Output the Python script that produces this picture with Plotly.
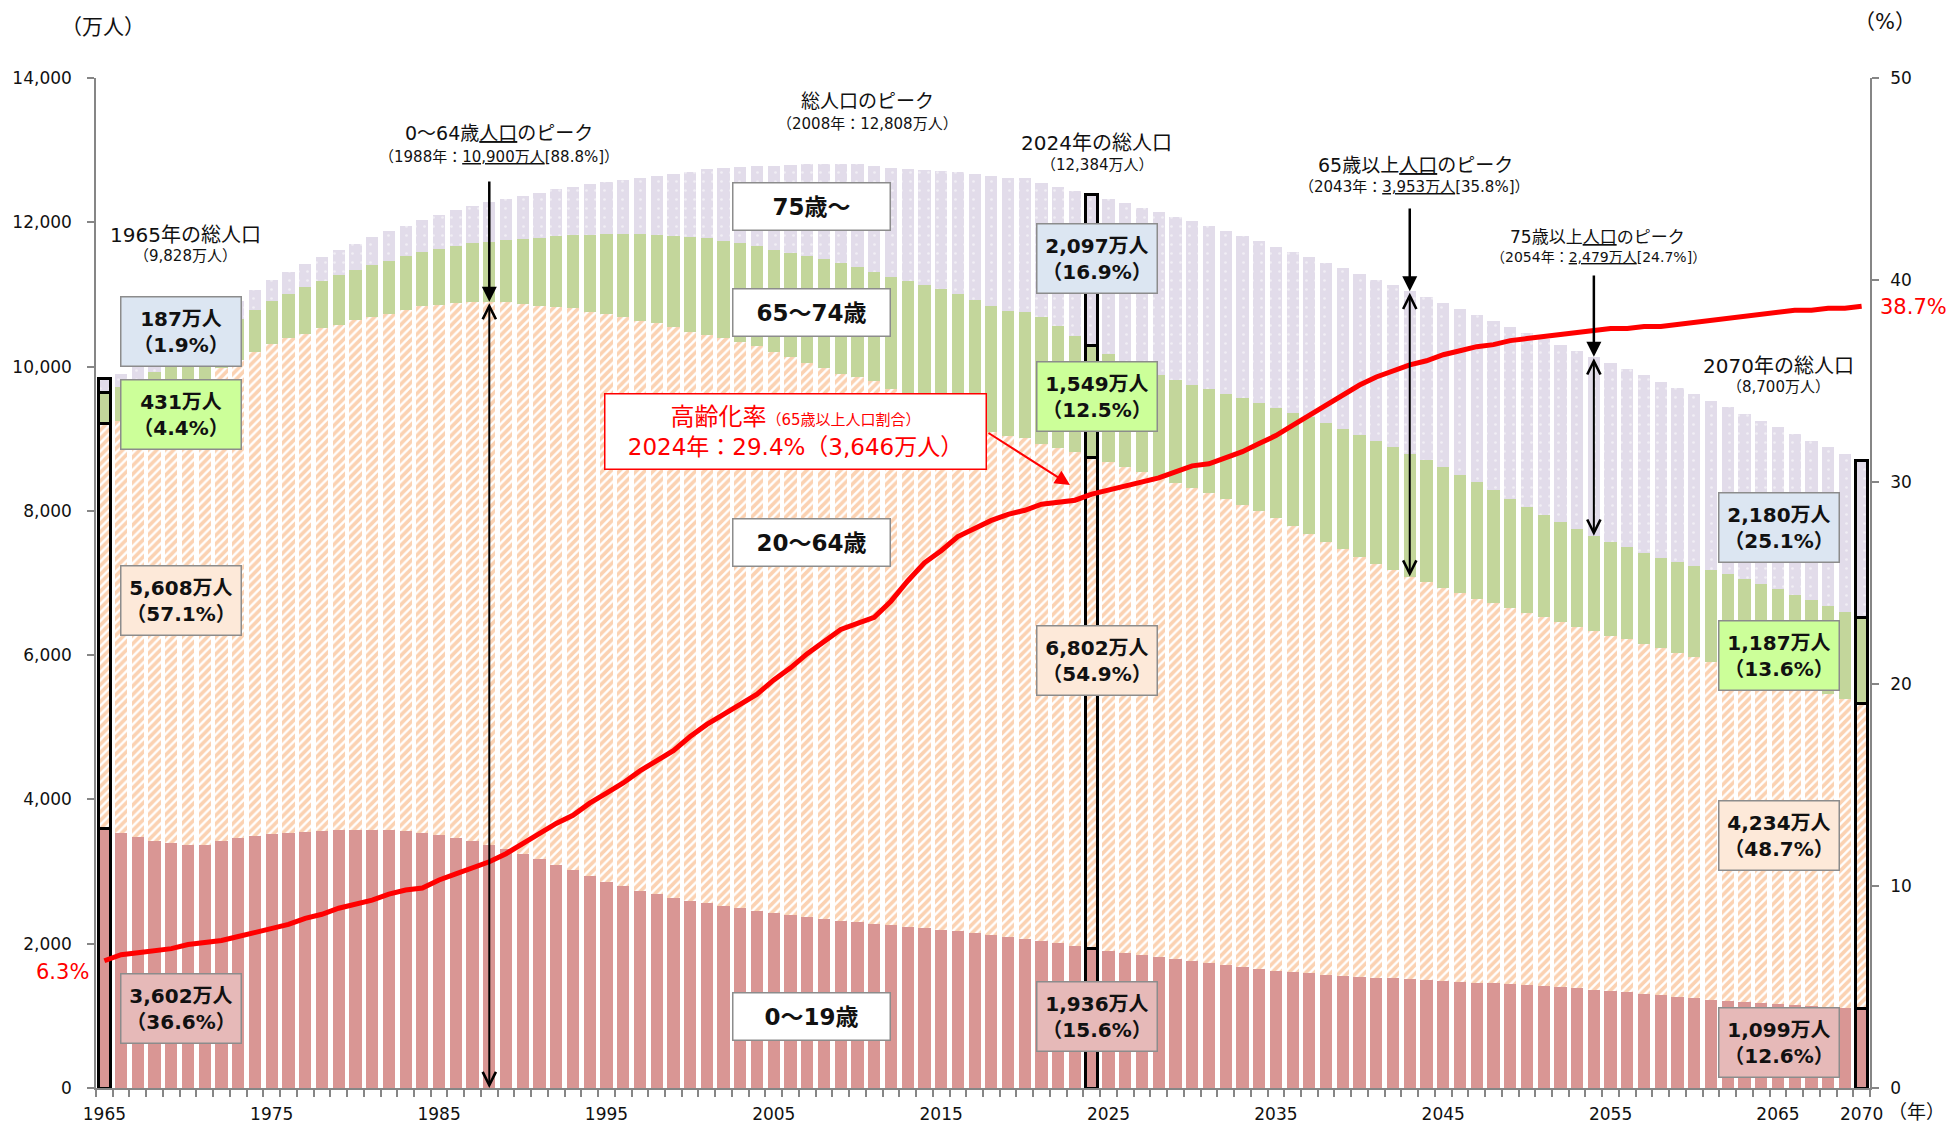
import plotly.graph_objects as go

# ---- data (万人 / %) -------------------------------------------------------
years = list(range(1965, 2071))

pop_0_19 = [
    3602, 3540, 3480, 3430, 3395, 3375, 3370, 3430, 3460, 3490,
    3515, 3535, 3550, 3565, 3575, 3580, 3580, 3575, 3560, 3535,
    3505, 3470, 3425, 3375, 3315, 3250, 3175, 3095, 3015, 2935,
    2860, 2795, 2735, 2685, 2640, 2597, 2560, 2525, 2490, 2455,
    2425, 2395, 2370, 2345, 2320, 2295, 2275, 2255, 2235, 2215,
    2195, 2175, 2150, 2125, 2098, 2065, 2035, 2005, 1970, 1936,
    1900, 1870, 1840, 1812, 1784, 1756, 1728, 1700, 1673, 1648,
    1628, 1605, 1588, 1572, 1555, 1540, 1530, 1520, 1510, 1500,
    1490, 1475, 1462, 1450, 1437, 1425, 1410, 1395, 1380, 1365,
    1350, 1330, 1308, 1283, 1260, 1241, 1225, 1205, 1188, 1173,
    1158, 1145, 1132, 1120, 1108, 1099,
]

pop_20_64 = [
    5608, 5710, 5869, 6014, 6151, 6349, 6439, 6545, 6632, 6716,
    6795, 6858, 6908, 6963, 7007, 7061, 7114, 7158, 7223, 7305,
    7353, 7406, 7467, 7525, 7577, 7615, 7671, 7730, 7792, 7826,
    7864, 7891, 7900, 7913, 7912, 7887, 7880, 7865, 7853, 7832,
    7771, 7735, 7680, 7632, 7577, 7566, 7530, 7429, 7308, 7201,
    7133, 7053, 7011, 6966, 6936, 6942, 6888, 6866, 6846, 6802,
    6778, 6739, 6701, 6662, 6609, 6556, 6526, 6471, 6415, 6345,
    6269, 6183, 6093, 6001, 5910, 5817, 5731, 5656, 5580, 5516,
    5441, 5382, 5321, 5271, 5211, 5160, 5112, 5064, 5017, 4969,
    4922, 4888, 4845, 4816, 4775, 4730, 4680, 4634, 4585, 4534,
    4484, 4431, 4388, 4335, 4290, 4234,
]

pop_65_74 = [
    431, 461, 472, 483, 494, 519, 528, 540, 562, 581,
    600, 616, 644, 660, 686, 699, 710, 734, 744, 743,
    776, 797, 815, 833, 860, 899, 940, 982, 1013, 1069,
    1116, 1152, 1198, 1229, 1255, 1308, 1343, 1355, 1372, 1382,
    1417, 1444, 1483, 1509, 1535, 1526, 1507, 1556, 1638, 1716,
    1749, 1774, 1762, 1755, 1734, 1748, 1760, 1688, 1611, 1549,
    1493, 1445, 1416, 1404, 1415, 1439, 1434, 1453, 1473, 1502,
    1530, 1575, 1614, 1648, 1675, 1700, 1714, 1712, 1705, 1684,
    1672, 1643, 1611, 1563, 1519, 1467, 1424, 1383, 1349, 1322,
    1301, 1276, 1269, 1254, 1254, 1260, 1269, 1279, 1286, 1281,
    1269, 1261, 1240, 1227, 1204, 1187,
]

pop_75_over = [
    187, 193, 199, 206, 214, 224, 233, 245, 256, 270,
    284, 300, 315, 331, 348, 366, 386, 406, 427, 448,
    471, 493, 517, 542, 569, 597, 624, 650, 674, 697,
    717, 748, 783, 820, 860, 901, 949, 1004, 1054, 1110,
    1164, 1216, 1270, 1322, 1371, 1419, 1471, 1519, 1560, 1592,
    1632, 1691, 1748, 1798, 1849, 1860, 1867, 1936, 2008, 2097,
    2155, 2210, 2245, 2262, 2268, 2261, 2257, 2253, 2247, 2242,
    2237, 2227, 2220, 2219, 2222, 2227, 2230, 2237, 2248, 2262,
    2277, 2298, 2322, 2350, 2385, 2417, 2440, 2460, 2473, 2479,
    2478, 2470, 2455, 2437, 2413, 2384, 2350, 2315, 2283, 2262,
    2248, 2230, 2215, 2202, 2190, 2180,
]

# 高齢化率 (65歳以上人口割合, %)
aging_rate = [
    6.3, 6.6, 6.7, 6.8, 6.9, 7.1, 7.2, 7.3, 7.5, 7.7,
    7.9, 8.1, 8.4, 8.6, 8.9, 9.1, 9.3, 9.6, 9.8, 9.9,
    10.3, 10.6, 10.9, 11.2, 11.6, 12.1, 12.6, 13.1, 13.5, 14.1,
    14.6, 15.1, 15.7, 16.2, 16.7, 17.4, 18.0, 18.5, 19.0, 19.5,
    20.2, 20.8, 21.5, 22.1, 22.7, 23.0, 23.3, 24.1, 25.1, 26.0,
    26.6, 27.3, 27.7, 28.1, 28.4, 28.6, 28.9, 29.0, 29.1, 29.4,
    29.6, 29.8, 30.0, 30.2, 30.5, 30.8, 30.9, 31.2, 31.5, 31.9,
    32.3, 32.8, 33.3, 33.8, 34.3, 34.8, 35.2, 35.5, 35.8, 36.0,
    36.3, 36.5, 36.7, 36.8, 37.0, 37.1, 37.2, 37.3, 37.4, 37.5,
    37.6, 37.6, 37.7, 37.7, 37.8, 37.9, 38.0, 38.1, 38.2, 38.3,
    38.4, 38.5, 38.5, 38.6, 38.6, 38.7,
]

year_ticks = [1965, 1975, 1985, 1995, 2005, 2015, 2025, 2035, 2045, 2055, 2065, 2070]
highlight_years = [1965, 2024, 2070]

# ---- styling ---------------------------------------------------------------
FONT = "DejaVu Sans, Noto Sans CJK JP, sans-serif"
AXIS_GRAY = "#868686"
C_0_19 = "#d99694"
C_20_64 = "#f7a566"
C_65_74 = "#c3d69b"
C_75 = "#e2dcea"
BOX_BLUE = "#dce6f2"
BOX_GREEN = "#ccff99"
BOX_PEACH = "#fde9d9"
BOX_PINK = "#e6b9b8"
RED = "#ff0000"

# plot-area geometry in page pixels (used to place labels)
L, R, T, B = 96, 1870, 78, 1088
Y_MAX = 14000


def paper(xp, yp):
    return (xp - L) / (R - L), (B - yp) / (B - T)


def val_at(yp):
    return (B - yp) / (B - T) * Y_MAX


outline_w = [3 if y in highlight_years else 0 for y in years]

fig = go.Figure()


def add_bar(values, name, color, pattern=None):
    marker = dict(color=color, line=dict(color="black", width=outline_w))
    if pattern is not None:
        marker["pattern"] = pattern
    fig.add_trace(go.Bar(x=years, y=values, name=name, marker=marker,
                         hoverinfo="x+y+name"))


add_bar(pop_0_19, "0～19歳", C_0_19)
add_bar(pop_20_64, "20～64歳", "white",
        dict(shape="/", fgcolor=C_20_64, bgcolor="white", size=6, solidity=0.6))
add_bar(pop_65_74, "65～74歳", C_65_74)
add_bar(pop_75_over, "75歳～", C_75,
        dict(shape=".", fgcolor="white", bgcolor=C_75, size=9, solidity=0.07))

fig.add_trace(go.Scatter(
    x=years, y=aging_rate, yaxis="y2", mode="lines", name="高齢化率",
    line=dict(color=RED, width=5), hoverinfo="x+y",
))

ann = []


def text(xp, yp, s, size, color="#111111", bold=False, xanchor="center"):
    x, y = paper(xp, yp)
    if bold:
        s = "<b>" + s + "</b>"
    ann.append(dict(xref="paper", yref="paper", x=x, y=y, text=s, showarrow=False,
                    xanchor=xanchor, yanchor="middle",
                    font=dict(family=FONT, size=size, color=color)))


def box(cx, cy, w, h, s, bg, size=20, border="#8c8c8c", color="#111111", bw=1.5):
    x, y = paper(cx, cy)
    ann.append(dict(xref="paper", yref="paper", x=x, y=y, text=s, showarrow=False,
                    xanchor="center", yanchor="middle", width=w - 2 * bw, height=h - 2 * bw,
                    bgcolor=bg, bordercolor=border, borderwidth=bw, borderpad=0,
                    align="center", valign="middle",
                    font=dict(family=FONT, size=size, color=color)))


# axis unit labels
text(103, 27, "（万人）", 21)
text(1885, 22, "（%）", 21)
text(1886, 1112, "（年）", 19, xanchor="left")

# value boxes for 1965 / 2024 / 2070
BW, BH = 122, 71
for cx, rows in [
    (181, [(331, "187万人<br>（1.9%）", BOX_BLUE),
           (414.5, "431万人<br>（4.4%）", BOX_GREEN),
           (600, "5,608万人<br>（57.1%）", BOX_PEACH),
           (1008.5, "3,602万人<br>（36.6%）", BOX_PINK)]),
    (1096.5, [(258.5, "2,097万人<br>（16.9%）", BOX_BLUE),
              (396.5, "1,549万人<br>（12.5%）", BOX_GREEN),
              (660, "6,802万人<br>（54.9%）", BOX_PEACH),
              (1016.5, "1,936万人<br>（15.6%）", BOX_PINK)]),
    (1778.5, [(527, "2,180万人<br>（25.1%）", BOX_BLUE),
              (655.5, "1,187万人<br>（13.6%）", BOX_GREEN),
              (835.5, "4,234万人<br>（48.7%）", BOX_PEACH),
              (1042.5, "1,099万人<br>（12.6%）", BOX_PINK)]),
]:
    for cy, s, bg in rows:
        box(cx, cy, BW, BH, "<b>" + s + "</b>", bg, size=20)

# age-group captions
for cy, s in [(206.5, "75歳～"), (312.5, "65～74歳"), (542.5, "20～64歳"), (1017, "0～19歳")]:
    box(811.5, cy, 159, 49, "<b>" + s + "</b>", "white", size=23)

# aging-rate callout
box(795.5, 431.5, 383, 77,
    '<span style="font-size:24px">高齢化率</span>'
    '<span style="font-size:15px">（65歳以上人口割合）</span><br>'
    '2024年：29.4%（3,646万人）',
    "white", size=23, border=RED, color=RED, bw=1.5)
ann.append(dict(x=2022.7, y=29.85, xref="x", yref="y2", ax=-83, ay=-53,
                axref="pixel", ayref="pixel", text="", showarrow=True,
                arrowhead=2, arrowsize=1.5, arrowwidth=2, arrowcolor=RED))

# rate end labels
text(62, 972, "6.3%", 21, color=RED)
text(1878, 307, "38.7%", 21, color=RED, xanchor="left")

# headline labels
text(185, 235, "1965年の総人口", 20)
text(185, 256, "（9,828万人）", 15)
text(499, 133, "0～64歳<u>人口</u>のピーク", 19)
text(499, 157, "（1988年：<u>10,900万人</u>[88.8%]）", 15)
text(867, 101, "総人口のピーク", 19)
text(867, 124, "（2008年：12,808万人）", 15)
text(1096, 143, "2024年の総人口", 20)
text(1097, 165, "（12,384万人）", 15)
text(1415, 165, "65歳以上<u>人口</u>のピーク", 19)
text(1414, 187, "（2043年：<u>3,953万人</u>[35.8%]）", 15)
text(1597, 237, "75歳以上<u>人口</u>のピーク", 17)
text(1598, 257, "（2054年：<u>2,479万人</u>[24.7%]）", 14)
text(1778, 366, "2070年の総人口", 20)
text(1778, 387, "（8,700万人）", 15)


def idx(y):
    return years.index(y)


def filled_arrow(year, y_tip, y_start_px):
    ann.append(dict(x=year, y=y_tip, ax=year, ay=val_at(y_start_px),
                    xref="x", yref="y", axref="x", ayref="y", text="",
                    showarrow=True, arrowhead=2, arrowsize=1.2, arrowwidth=2.5,
                    arrowcolor="black", standoff=0))


def span_arrow(year, y_top, y_bottom):
    ann.append(dict(x=year, y=y_bottom, ax=year, ay=y_top,
                    xref="x", yref="y", axref="x", ayref="y", text="",
                    showarrow=True, arrowside="end+start",
                    arrowhead=5, startarrowhead=5, arrowsize=1.3, startarrowsize=1.3,
                    arrowwidth=2, arrowcolor="black", standoff=0, startstandoff=0))


# 0-64 peak (1988)
i = idx(1988)
top_0_64 = pop_0_19[i] + pop_20_64[i]
filled_arrow(1988, top_0_64, 180)
span_arrow(1988, top_0_64, 0)

# 65+ peak (2043)
i = idx(2043)
total = pop_0_19[i] + pop_20_64[i] + pop_65_74[i] + pop_75_over[i]
filled_arrow(2043, total, 207)
span_arrow(2043, total, pop_0_19[i] + pop_20_64[i])

# 75+ peak (2054)
i = idx(2054)
total = pop_0_19[i] + pop_20_64[i] + pop_65_74[i] + pop_75_over[i]
filled_arrow(2054, total, 274)
span_arrow(2054, total, total - pop_75_over[i])

fig.update_layout(
    width=1947, height=1126,
    margin=dict(l=L, r=1947 - R, t=T, b=1126 - B, autoexpand=False),
    paper_bgcolor="white", plot_bgcolor="white",
    barmode="stack", bargap=0.27,
    showlegend=False,
    font=dict(family=FONT, size=17, color="#111111"),
    annotations=ann,
    xaxis=dict(
        range=[1964.5, 2070.5], tickmode="array", tickvals=year_ticks,
        ticktext=[str(y) for y in year_ticks], automargin=False,
        ticks="outside", ticklen=10, tickcolor="rgba(0,0,0,0)",
        showline=True, linecolor=AXIS_GRAY, linewidth=1.5,
        showgrid=False, zeroline=False,
        tickfont=dict(family=FONT, size=17, color="#111111"),
        minor=dict(tickmode="array", tickvals=[y - 0.5 for y in range(1965, 2072)],
                   ticks="outside", ticklen=7, tickcolor=AXIS_GRAY, tickwidth=1.5,
                   showgrid=False),
    ),
    yaxis=dict(
        range=[0, Y_MAX], tickmode="array", tickvals=list(range(0, 14001, 2000)),
        tickformat=",", ticks="outside", ticklen=7, tickcolor=AXIS_GRAY, tickwidth=1.5,
        showline=True, linecolor=AXIS_GRAY, linewidth=1.5, automargin=False,
        showgrid=False, zeroline=False, ticklabelstandoff=12,
        tickfont=dict(family=FONT, size=17, color="#111111"),
    ),
    yaxis2=dict(
        range=[0, 50], overlaying="y", side="right", tickmode="array",
        tickvals=[0, 10, 20, 30, 40, 50], automargin=False,
        ticks="outside", ticklen=7, tickcolor=AXIS_GRAY, tickwidth=1.5,
        showline=True, linecolor=AXIS_GRAY, linewidth=1.5,
        showgrid=False, zeroline=False, ticklabelstandoff=8,
        tickfont=dict(family=FONT, size=17, color="#111111"),
    ),
)

fig.write_html("out.html", config={"displayModeBar": False})
